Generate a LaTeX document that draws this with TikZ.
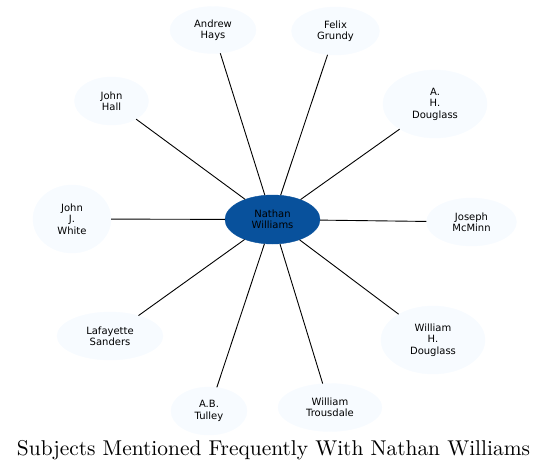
\documentclass[tikz,border=0pt]{standalone}
\usepackage{fontspec}
\setmainfont{DejaVu Sans}
\newfontfamily\titlefont{Latin Modern Roman}
\usetikzlibrary{shapes.geometric}
\definecolor{outerfill}{HTML}{F7FBFF}
\definecolor{centerfill}{HTML}{08519C}
\tikzset{
  person/.style={ellipse, fill=outerfill, draw=outerfill, inner sep=0pt, align=center,
    font=\fontsize{10}{11.4}\selectfont},
  hub/.style={ellipse, fill=centerfill, draw=centerfill, inner sep=0pt, align=center,
    font=\fontsize{10}{11.4}\selectfont},
  link/.style={draw=black, line width=0.9pt}
}
\begin{document}
\begin{tikzpicture}[x=1pt,y=-1pt]
\useasboundingbox (0,0) rectangle (549,472);
\node[hub, minimum width=95pt, minimum height=49pt] (nw) at (272.5,219.5) {Nathan\\Williams};
\node[person, minimum width=86pt, minimum height=47pt] (ah) at (213,30) {Andrew\\Hays};
\node[person, minimum width=88pt, minimum height=48pt] (fg) at (335.5,31) {Felix\\Grundy};
\node[person, minimum width=104pt, minimum height=68pt] (ahd) at (435,104) {A.\\H.\\Douglass};
\node[person, minimum width=74pt, minimum height=48pt] (jh) at (111.5,101) {John\\Hall};
\node[person, minimum width=78pt, minimum height=68pt] (jjw) at (72,219) {John\\J.\\White};
\node[person, minimum width=90pt, minimum height=48pt] (jm) at (471.5,222) {Joseph\\McMinn};
\node[person, minimum width=106pt, minimum height=48pt] (ls) at (110,336) {Lafayette\\Sanders};
\node[person, minimum width=104pt, minimum height=68pt] (whd) at (433,340) {William\\H.\\Douglass};
\node[person, minimum width=76pt, minimum height=48pt] (abt) at (209,411) {A.B.\\Tulley};
\node[person, minimum width=104pt, minimum height=48pt] (wt) at (330,407.5) {William\\Trousdale};
\node[inner sep=0pt] (title) at (273.5,450) {\resizebox{513pt}{!}{\titlefont Subjects Mentioned Frequently With Nathan Williams}};
\foreach \n in {ah,fg,ahd,jh,jjw,jm,ls,whd,abt,wt}{
  \draw[link] (nw) -- (\n);
}
\end{tikzpicture}
\end{document}
